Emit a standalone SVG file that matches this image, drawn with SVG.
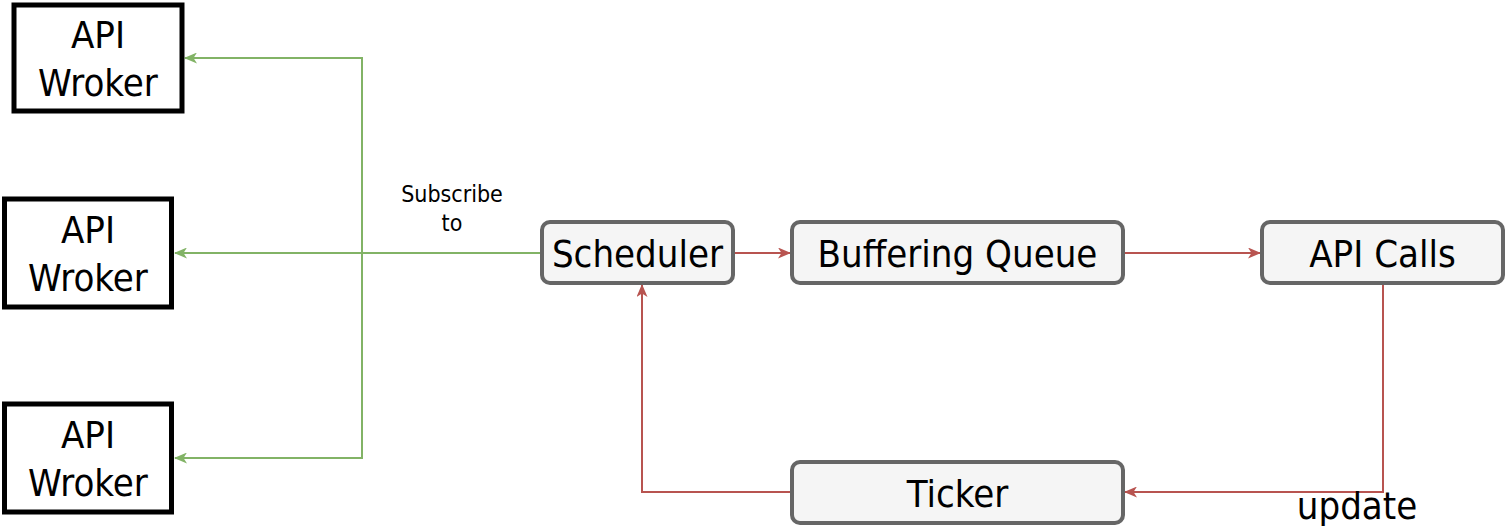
<svg xmlns="http://www.w3.org/2000/svg" width="1505" height="526" viewBox="0 0 1505 526">
  <style>
    .worker { fill: #ffffff; stroke: #000000; stroke-width: 5; }
    .proc { fill: #f5f5f5; stroke: #666666; stroke-width: 4; }
    .lbl { font-family: "DejaVu Sans Condensed", "DejaVu Sans", sans-serif; font-stretch: condensed; font-size: 38px; fill: #000000; text-anchor: middle; }
    .small { font-family: "DejaVu Sans Condensed", "DejaVu Sans", sans-serif; font-stretch: condensed; font-size: 23px; fill: #000000; text-anchor: middle; }
    .green { fill: none; stroke: #82b366; stroke-width: 2; }
    .red { fill: none; stroke: #b85450; stroke-width: 2; }
  </style>
  <defs>
    <marker id="arrG" viewBox="0 0 13 11" refX="12" refY="5.5" markerWidth="13" markerHeight="11" markerUnits="userSpaceOnUse" orient="auto">
      <path d="M0,0 L13,5.5 L0,11 L3.5,5.5 Z" fill="#82b366"/>
    </marker>
    <marker id="arrR" viewBox="0 0 13 11" refX="12" refY="5.5" markerWidth="13" markerHeight="11" markerUnits="userSpaceOnUse" orient="auto">
      <path d="M0,0 L13,5.5 L0,11 L3.5,5.5 Z" fill="#b85450"/>
    </marker>
  </defs>

  <g id="connectors">
    <path class="green" d="M540,253 L175,253" marker-end="url(#arrG)"/>
    <path class="green" d="M362,253 L362,58 L185,58" marker-end="url(#arrG)"/>
    <path class="green" d="M362,253 L362,458 L175,458" marker-end="url(#arrG)"/>
    <path class="red" d="M735,253 L790,253" marker-end="url(#arrR)"/>
    <path class="red" d="M1125,253 L1260,253" marker-end="url(#arrR)"/>
    <path class="red" d="M1383,285 L1383,492 L1125,492" marker-end="url(#arrR)"/>
    <path class="red" d="M790,492 L642,492 L642,285" marker-end="url(#arrR)"/>
    <text class="small" x="452" y="202">Subscribe</text>
    <text class="small" x="452" y="231">to</text>
    <text class="lbl" x="1357" y="519">update</text>
  </g>

  <g id="worker1">
    <rect class="worker" x="14" y="5" width="168" height="106"/>
    <text class="lbl" x="98" y="48">API</text>
    <text class="lbl" x="98" y="96">Wroker</text>
  </g>
  <g id="worker2">
    <rect class="worker" x="4.5" y="199" width="167" height="108"/>
    <text class="lbl" x="88" y="243">API</text>
    <text class="lbl" x="88" y="291">Wroker</text>
  </g>
  <g id="worker3">
    <rect class="worker" x="4.5" y="404" width="167" height="108"/>
    <text class="lbl" x="88" y="448">API</text>
    <text class="lbl" x="88" y="496">Wroker</text>
  </g>

  <g id="scheduler">
    <rect class="proc" x="542" y="222" width="191" height="61" rx="8" ry="8"/>
    <text class="lbl" x="637.5" y="267">Scheduler</text>
  </g>
  <g id="buffering-queue">
    <rect class="proc" x="792" y="222" width="331" height="61" rx="8" ry="8"/>
    <text class="lbl" x="957.5" y="267">Buffering Queue</text>
  </g>
  <g id="api-calls">
    <rect class="proc" x="1262" y="222" width="241" height="61" rx="8" ry="8"/>
    <text class="lbl" x="1382.5" y="267">API Calls</text>
  </g>
  <g id="ticker">
    <rect class="proc" x="792" y="462" width="331" height="61" rx="8" ry="8"/>
    <text class="lbl" x="957.5" y="507">Ticker</text>
  </g>
</svg>
